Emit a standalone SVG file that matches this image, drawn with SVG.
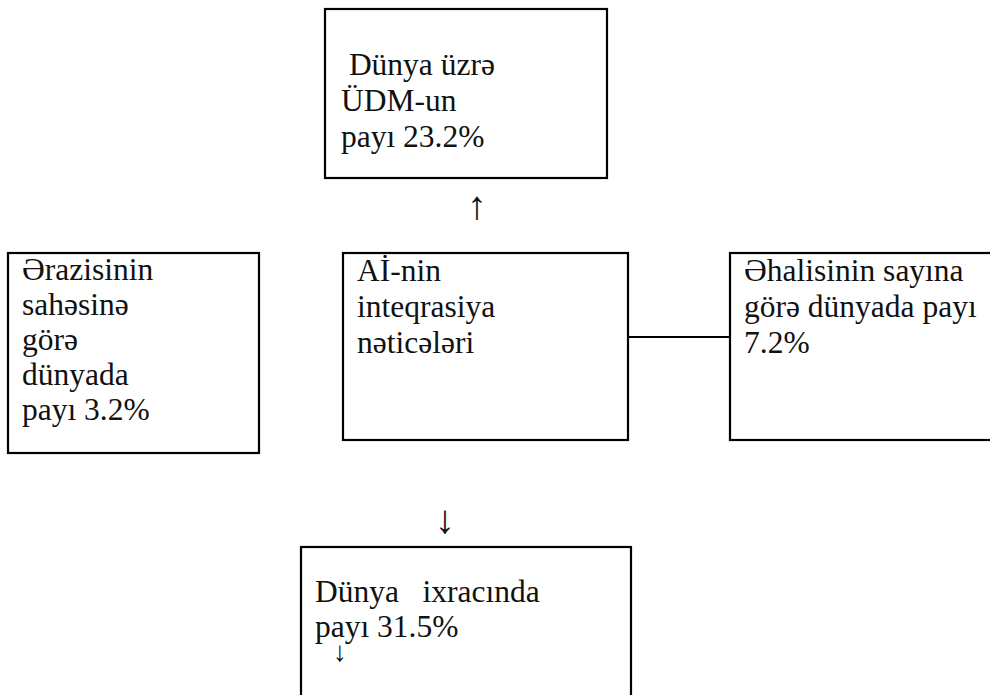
<svg xmlns="http://www.w3.org/2000/svg" width="990" height="695" viewBox="0 0 990 695">
<style>
.box{fill:#fff;stroke:#000;stroke-width:2.2}
.ln{stroke:#000;stroke-width:2;fill:none}
text{font-family:'Times New Roman','Liberation Serif','DejaVu Serif',serif}
</style>
<rect width="990" height="695" fill="#fff"/>
<g id="connectors" fill="#111" text-anchor="middle">
<line class="ln" x1="628" y1="337" x2="730" y2="337"/>
<text x="477" y="219" font-size="40">↑</text>
<text x="445" y="533" font-size="40">↓</text>
</g>
<g font-size="31.5" fill="#111">
<g id="node-top">
<rect class="box" x="325" y="9" width="282" height="169"/>
<text xml:space="preserve"><tspan x="341" y="75"> Dünya üzrə</tspan><tspan x="341" y="111">ÜDM-un</tspan><tspan x="341" y="147">payı 23.2%</tspan></text>
</g>
<g id="node-left">
<rect class="box" x="8" y="253" width="251" height="200"/>
<text><tspan x="22" y="280">Ərazisinin</tspan><tspan x="22" y="315">sahəsinə</tspan><tspan x="22" y="350">görə</tspan><tspan x="22" y="385">dünyada</tspan><tspan x="22" y="420">payı 3.2%</tspan></text>
</g>
<g id="node-center">
<rect class="box" x="343" y="253" width="285" height="187"/>
<text><tspan x="357" y="281">Aİ-nin</tspan><tspan x="357" y="317">inteqrasiya</tspan><tspan x="357" y="353">nəticələri</tspan></text>
</g>
<g id="node-right">
<rect class="box" x="730" y="253" width="280" height="187"/>
<text><tspan x="744" y="281">Əhalisinin sayına</tspan><tspan x="744" y="317">görə dünyada payı</tspan><tspan x="744" y="353">7.2%</tspan></text>
</g>
<g id="node-bottom">
<rect class="box" x="301" y="547" width="330" height="170"/>
<text xml:space="preserve"><tspan x="315" y="602">Dünya   ixracında</tspan><tspan x="315" y="637">payı 31.5%</tspan></text>
<text x="340" y="661" font-size="28" text-anchor="middle">↓</text>
</g>
</g>
</svg>
